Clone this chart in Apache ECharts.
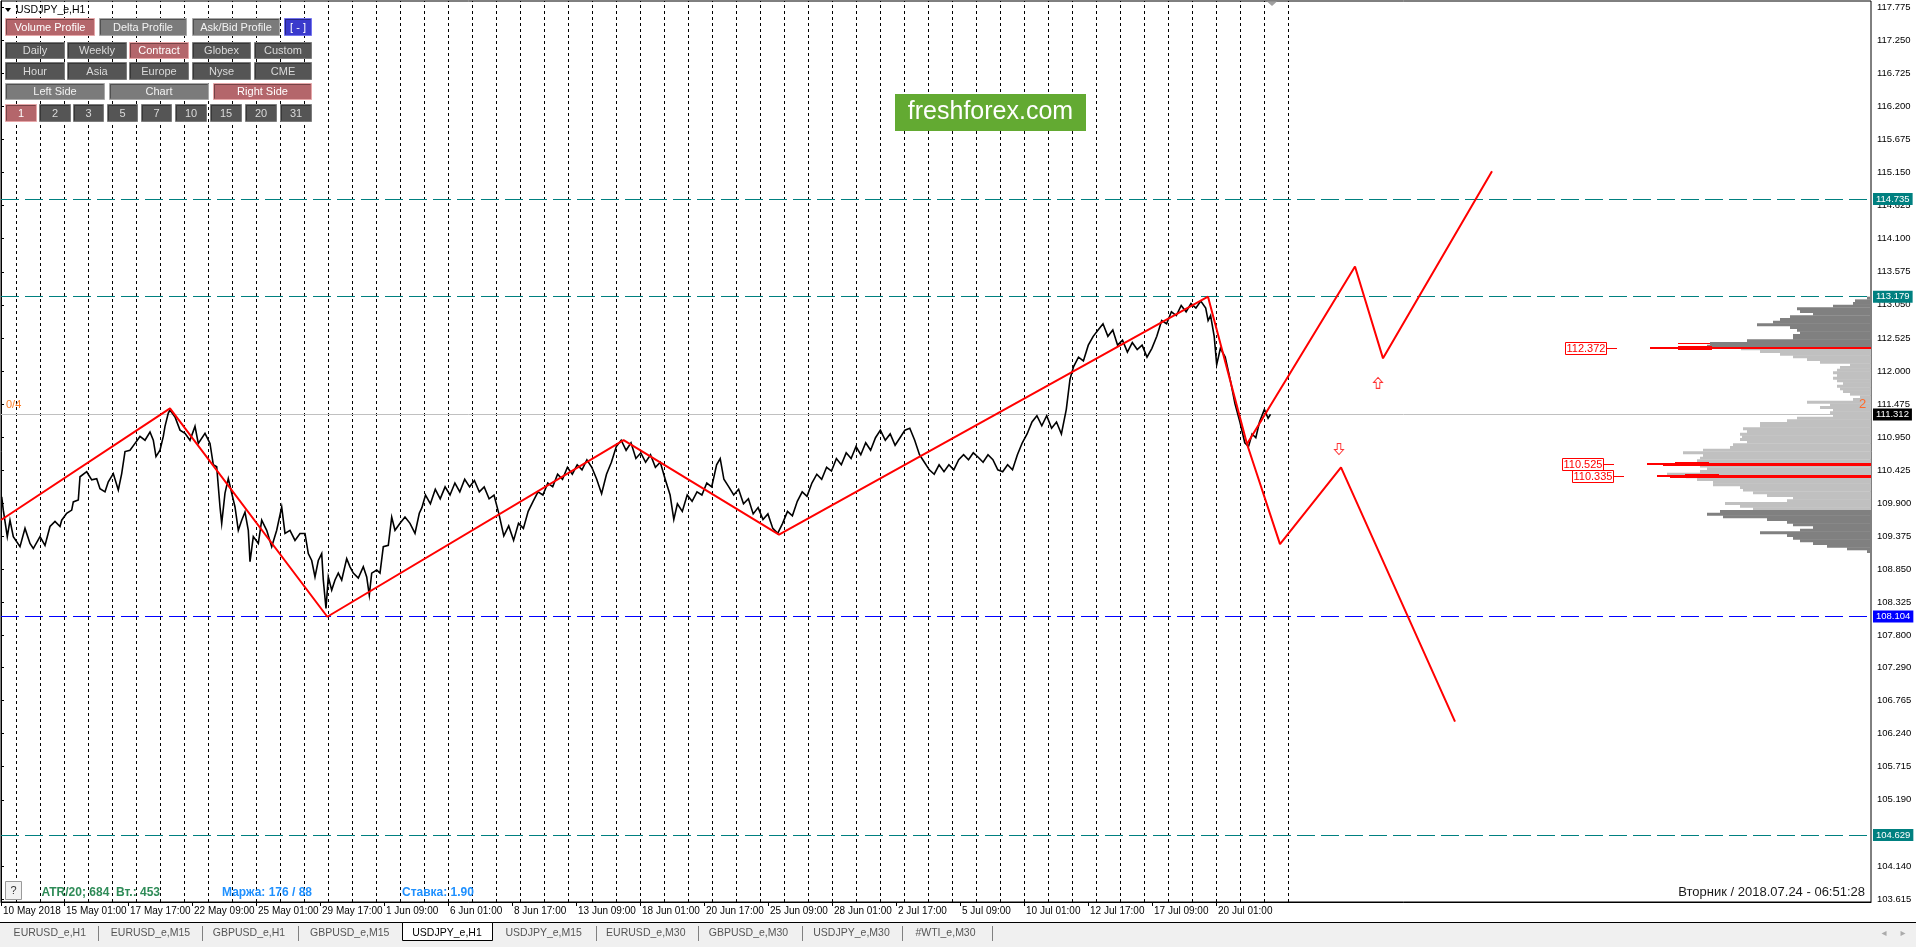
<!DOCTYPE html>
<html><head><meta charset="utf-8">
<script src="https://cdn.jsdelivr.net/npm/echarts@6/dist/echarts.min.js"></script>
<style>html,body{margin:0;padding:0;background:#fff;overflow:hidden}#c{width:1916px;height:947px}</style>
</head><body><div id="c"></div>
<script>
// ---------- DATA ----------
const priceTicks = [117.775,117.250,116.725,116.200,115.675,115.150,114.625,114.100,113.575,113.050,112.525,112.000,111.475,110.950,110.425,109.900,109.375,108.850,108.325,107.800,107.290,106.765,106.240,105.715,105.190,104.140,103.615];
const dateTickBars = [0,63,127,191,255,319,383,447,511,575,639,703,767,831,895,959,1023,1087,1151,1215];
const dateTickLabels = ['10 May 2018','15 May 01:00','17 May 17:00','22 May 09:00','25 May 01:00','29 May 17:00','1 Jun 09:00','6 Jun 01:00','8 Jun 17:00','13 Jun 09:00','18 Jun 01:00','20 Jun 17:00','25 Jun 09:00','28 Jun 01:00','2 Jul 17:00','5 Jul 09:00','10 Jul 01:00','12 Jul 17:00','17 Jul 09:00','20 Jul 01:00'];
const daySeparatorBars = [15.5,39.5,63.5,87.5,111.5,135.5,159.5,183.5,207.5,231.5,255.5,279.5,303.5,327.5,351.5,375.5,399.5,423.5,447.5,471.5,495.5,519.5,543.5,567.5,591.5,615.5,639.5,663.5,687.5,711.5,735.5,759.5,783.5,807.5,831.5,855.5,879.5,903.5,927.5,951.5,975.5,999.5,1023.5,1047.5,1071.5,1095.5,1119.5,1143.5,1167.5,1191.5,1215.5,1239.5,1263.5,1287.5];
const closeLine = [
[0.7,110.00],[2.3,109.79],[6.3,109.37],[9,109.63],[12.3,109.37],[19,109.21],[24,109.50],[29,109.26],[32.3,109.18],[39,109.37],[44,109.23],[49,109.53],[54,109.61],[59,109.53],[60.7,109.63],[65.7,109.74],[70.7,109.79],[72.3,109.92],[77.3,109.95],[79,110.32],[85.7,110.40],[90.7,110.27],[95.7,110.29],[99,110.13],[104,110.08],[107.3,110.24],[112.3,110.37],[117.3,110.11],[120.7,110.37],[124,110.72],[129,110.74],[134,110.85],[139,110.96],[144,110.90],[149,111.03],[152.3,110.90],[155,110.64],[159,110.74],[162.3,110.96],[164,111.12],[167.3,111.33],[169,111.38],[174,111.27],[179,111.06],[184,111.01],[189,110.90],[194,111.12],[197.3,110.85],[204,111.01],[209,110.85],[212.3,110.51],[215.7,110.48],[219,109.84],[220.7,109.58],[224,110.06],[227.3,110.29],[230.7,110.06],[234,109.84],[237.3,109.47],[240.7,109.63],[244,109.76],[247.3,109.47],[249,108.97],[252.3,109.37],[257.3,109.26],[260.7,109.63],[265.7,109.47],[270.7,109.21],[275.7,109.47],[280.7,109.84],[284,109.42],[289,109.47],[294,109.31],[299,109.42],[304,109.42],[307.3,109.10],[310.7,108.99],[314,108.73],[317.3,108.99],[320.7,109.10],[322.3,108.68],[325,108.23],[327.3,108.73],[330.7,108.52],[334,108.68],[337.3,108.79],[340.7,108.68],[345.7,109.02],[349,108.89],[352.3,108.79],[357.3,108.71],[362.3,108.89],[365.7,108.73],[368.3,108.44],[370.7,108.79],[375.7,108.84],[379,108.79],[382.3,109.21],[387.3,109.23],[390.7,109.68],[394,109.47],[399,109.58],[404,109.68],[409,109.58],[414,109.42],[418.3,109.74],
[420.9,109.83],[424.5,110.03],[429.4,109.89],[434.3,110.12],[439.2,109.97],[444.1,110.16],[449,110.03],[453.9,110.22],[458.8,110.08],[463.7,110.28],[468.6,110.16],[473.4,110.26],[478.3,110.08],[483.2,110.16],[488.1,109.97],[493,110.03],[497.9,109.73],[502.8,109.38],[507.7,109.54],[512.6,109.31],[517.5,109.58],[522.4,109.50],[527.2,109.77],[532.1,109.93],[537,110.08],[541.9,110.03],[546.8,110.22],[551.7,110.16],[556.6,110.36],[561.5,110.28],[566.4,110.47],[571.3,110.36],[576.2,110.51],[581,110.43],[585.9,110.59],[590.8,110.47],[595.7,110.28],[600.6,110.05],[605.5,110.36],[610.4,110.55],[615.3,110.80],[620.2,110.90],[625.1,110.74],[630,110.86],[634.9,110.61],[639.8,110.70],[644.6,110.55],[649.5,110.67],[654.4,110.47],[659.3,110.55],[664.2,110.28],[669.1,110.03],[672.8,109.64],[676.4,109.89],[681.3,109.77],[686.2,110.03],[691.1,109.93],[696,110.08],[700.9,110.03],[705.8,110.22],[710.7,110.16],[715.6,110.51],[719.2,110.61],[722.9,110.28],[727.8,110.16],[732.7,110.03],[737.6,110.12],[742.5,109.89],[747.4,109.97],[752.2,109.73],[757.1,109.83],[762,109.64],[766.9,109.73],[771.8,109.50],[776.7,109.42],[781.6,109.58],[786.5,109.77],[791.4,109.70],[796.3,109.93],[801.2,110.08],[806,110.01],[810.9,110.22],[815.8,110.36],[820.7,110.28],[825.6,110.47],[830.5,110.41],[835.4,110.61],[840.3,110.51],[845.2,110.70],[850.1,110.61],[855,110.80],[859.8,110.67],[864.7,110.86],[869.6,110.74],[874.5,110.94],[879.4,111.06],[884.3,110.90],[889.2,111.00],[894.1,110.82],[899,110.94],[903.9,111.06],[908.8,111.09],[913.7,110.90],[918.5,110.67],[923.4,110.55],[928.3,110.43],[933.2,110.36],[938.1,110.51],[943,110.40],[947.9,110.51],[952.8,110.43],[957.7,110.59],[962.6,110.67],[967.5,110.59],[972.3,110.70],[977.2,110.63],[982.1,110.55],[987,110.67],[991.9,110.59],[996.8,110.43],[1001.7,110.40],[1006.6,110.51],[1011.5,110.43],[1016.4,110.67],[1021.3,110.86],[1026.1,111.00],[1031,111.19],[1035.9,111.29],[1040.8,111.13],[1045.7,111.29],[1050.6,111.09],[1055.5,111.19],[1060.4,111.00],[1065.3,111.39],[1069,111.87],[1072.6,112.07],[1077.5,112.22],[1082.4,112.16],[1087.3,112.41],[1092.2,112.55],[1097.1,112.65],[1102,112.75],[1106.9,112.55],[1111.8,112.65],[1116.6,112.41],[1121.5,112.49],[1126.4,112.30],[1131.3,112.45],[1136.2,112.34],[1141.1,112.41],[1146,112.22],[1150.9,112.36],[1155.8,112.55],[1160.7,112.80],[1165.6,112.75],[1170.4,112.94],[1175.3,112.88],[1180.2,113.04],[1185.1,112.94],[1190,113.07],[1194.9,113.00],[1199.8,113.11],[1204.7,113.00],[1207.1,112.80],[1209.6,112.88],[1213.2,112.55],[1215.7,112.10],[1219.4,112.36],[1224.2,112.22],[1229.1,111.87],[1234,111.48],[1238.9,111.19],[1243.8,110.86],[1247.5,110.80],[1251.1,111.00],[1254.8,110.94],[1258.5,111.19],[1263.4,111.39],[1267.1,111.25],[1269.5,111.312]
];
const zigzagMain = [[0,109.633],[169,111.407],[326.3,108.097],[622.6,110.90],[778,109.40],[1207,113.18],[1246,110.84]];
const projectionUp = [[1246,110.84],[1354,113.66],[1382,112.20],[1491,115.17]];
const projectionDown = [[1246,110.84],[1279,109.25],[1340,110.47],[1454,106.43]];
const tealLevels = [114.735, 113.179, 104.629];
const blueLevels = [108.104];
const lastPrice = 111.312;
const arrowUp = [[1377,111.81]];
const arrowDown = [[1338,110.76]];
const profileStep = 0.04235;
const valueAreaHigh = 112.37, valueAreaLow = 109.79;
const volumeProfile = [
[113.159,4],[113.116,16],[113.074,18],[113.032,38],[112.989,74],[112.947,71],[112.905,58],[112.862,81],[112.820,91],[112.777,98],[112.735,114],[112.693,81],[112.650,74],[112.608,71],[112.566,78],[112.523,78],[112.481,124],[112.439,161],[112.396,164],
[112.354,130],[112.312,111],[112.269,91],[112.227,78],[112.185,64],[112.142,51],[112.100,21],[112.058,31],[112.015,34],[111.973,38],[111.931,34],[111.888,38],[111.846,34],[111.803,28],[111.761,34],[111.719,31],[111.676,28],[111.634,21],[111.592,11],[111.549,18],[111.507,64],[111.465,41],[111.422,51],[111.380,38],[111.338,41],[111.295,38],[111.253,74],[111.211,84],[111.168,111],[111.126,111],[111.084,128],[111.041,124],[110.999,131],[110.956,129],[110.914,131],[110.872,124],[110.829,138],[110.787,141],[110.745,168],[110.702,188],[110.660,168],[110.618,171],[110.575,174],[110.533,171],[110.491,171],[110.448,164],[110.406,171],[110.364,204],[110.321,185],[110.279,174],[110.236,158],[110.194,158],[110.152,131],[110.110,128],[110.067,118],[110.025,104],[109.982,78],[109.940,84],[109.898,146],[109.855,131],[109.813,118],
[109.771,151],[109.728,164],[109.686,148],[109.644,104],[109.601,84],[109.559,78],[109.517,58],[109.474,71],[109.432,111],[109.390,84],[109.347,78],[109.305,71],[109.263,58],[109.220,44],[109.178,24],[109.135,4]
];
const pocLevels = [[112.372,221],[110.525,224],[110.335,214]];
const pocShadows = [[112.45,193,161],[110.508,208,0],[110.318,201,0]];

// ---------- STYLE / LAYOUT ----------
const FONT = '"Liberation Sans", Arial, sans-serif';
const chart = echarts.init(document.getElementById('c'), null, {renderer:'canvas'});

const levelMarks = [];
tealLevels.forEach(v => levelMarks.push({yAxis:v, name:v.toFixed(3), lineStyle:{color:'#008080', type:[18,6], width:1}, label:{backgroundColor:'#008080'}}));
blueLevels.forEach(v => levelMarks.push({yAxis:v, name:v.toFixed(3), lineStyle:{color:'#0000ff', type:[18,6], width:1}, label:{backgroundColor:'#0000ff'}}));
levelMarks.push({yAxis:lastPrice, name:lastPrice.toFixed(3), lineStyle:{color:'#c0c0c0', type:'solid', width:1}, label:{backgroundColor:'#000000'}});

const BTN = {
  pink:{fill:'#b4666b', stroke:'#e6a6a8', text:'#ffffff'},
  gray:{fill:'#7b7b7b', stroke:'#a8a8a8', text:'#f2f2f2'},
  dark:{fill:'#555555', stroke:'#7c7c7c', text:'#dadada'},
  blue:{fill:'#3a3acc', stroke:'#7474f0', text:'#ffffff'}
};
const buttons = [
 ['Volume Profile',5,18,90,18,'pink'],['Delta Profile',99,18,88,18,'gray'],['Ask/Bid Profile',192,18,88,18,'gray'],['[ - ]',284,18,28,18,'blue'],
 ['Daily',5,42,60,17,'dark'],['Weekly',67,42,60,17,'dark'],['Contract',129,42,60,17,'pink'],['Globex',192,42,59,17,'dark'],['Custom',254,42,58,17,'dark'],
 ['Hour',5,62,60,18,'dark'],['Asia',67,62,60,18,'dark'],['Europe',129,62,60,18,'dark'],['Nyse',192,62,59,18,'dark'],['CME',254,62,58,18,'dark'],
 ['Left Side',5,83,100,17,'gray'],['Chart',109,83,100,17,'gray'],['Right Side',213,83,99,17,'pink'],
 ['1',5,104,32,18,'pink'],['2',39,104,32,18,'dark'],['3',73,104,31,18,'dark'],['5',107,104,31,18,'dark'],['7',141,104,31,18,'dark'],['10',175,104,32,18,'dark'],['15',210,104,32,18,'dark'],['20',245,104,32,18,'dark'],['31',280,104,32,18,'dark']
];
const g = [];
function T(x,y,text,o){
  o=o||{};
  g.push({type:'text', x:x, y:y, z:100, silent:true, style:{text:text, fill:o.fill||'#000', font:(o.weight||'normal')+' '+(o.size||11)+'px '+(o.family||FONT), align:o.align||'left', verticalAlign:'middle', textAlign:o.align||'left', textVerticalAlign:'middle'}});
}
buttons.forEach(b => {
  const s = BTN[b[5]];
  g.push({type:'rect', z:99, silent:true, shape:{x:b[1]+0.5, y:b[2]+0.5, width:b[3]-1, height:b[4]-1}, style:{fill:s.fill, stroke:s.stroke, lineWidth:1}});
  g.push({type:'polyline', z:99, silent:true, shape:{points:[[b[1]+1.5,b[2]+b[4]-1.5],[b[1]+1.5,b[2]+1.5],[b[1]+b[3]-1.5,b[2]+1.5]]}, style:{stroke:'rgba(0,0,0,0.35)', lineWidth:1, fill:null}});
  T(b[1]+b[3]/2, b[2]+b[4]/2+0.5, b[0], {fill:s.text, align:'center', size:11});
});
// title
g.push({type:'polygon', z:100, silent:true, shape:{points:[[5,8],[11,8],[8,12]]}, style:{fill:'#000'}});
T(16,10,'USDJPY_e,H1',{size:10.5});
// logo
g.push({type:'rect', z:100, silent:true, shape:{x:895, y:94, width:191, height:37}, style:{fill:'#63aa32'}});
T(990.5,112.5,'freshforex.com',{fill:'#ffffff', size:25, align:'center'});
// small orange texts
T(6,405,'0/4',{fill:'#ff7f27', size:11});
T(1859,404.5,'2',{fill:'#ff6a2a', size:13});
// chart shift marker
g.push({type:'polygon', z:100, silent:true, shape:{points:[[1267,1.5],[1277,1.5],[1272,6]]}, style:{fill:'#a0a0a0'}});
// bottom status line
g.push({type:'rect', z:100, silent:true, shape:{x:5.5, y:881.5, width:16, height:18}, style:{fill:'#f2f2f2', stroke:'#9a9a9a', lineWidth:1}});
T(13.5,890.5,'?',{fill:'#333', size:11, align:'center'});
T(41.5,892.5,'ATR/20; 684  Вт.: 453',{fill:'#2e8b57', size:12, weight:'bold'});
T(222,892.5,'Маржа: 176 / 88',{fill:'#1e90ff', size:12, weight:'bold'});
T(402,892.5,'Ставка: 1.90',{fill:'#1e90ff', size:12, weight:'bold'});
T(1865,892,'Вторник / 2018.07.24 - 06:51:28',{fill:'#1a1a1a', size:13, align:'right'});
// tab bar
g.push({type:'rect', z:98, silent:true, shape:{x:0, y:923, width:1916, height:24}, style:{fill:'#f0f0f0'}});
g.push({type:'line', z:99, silent:true, shape:{x1:0, y1:922.5, x2:1916, y2:922.5}, style:{stroke:'#000', lineWidth:1}});
g.push({type:'rect', z:99, silent:true, shape:{x:402.5, y:922.5, width:90, height:18}, style:{fill:'#ffffff', stroke:'#000', lineWidth:1}});
const tabs = [['EURUSD_e,H1',49.8],['EURUSD_e,M15',150.5],['GBPUSD_e,H1',249],['GBPUSD_e,M15',349.7],['USDJPY_e,H1',447],['USDJPY_e,M15',543.7],['EURUSD_e,M30',645.8],['GBPUSD_e,M30',748.5],['USDJPY_e,M30',851.5],['#WTI_e,M30',945.5]];
tabs.forEach(t => T(t[1],933,t[0],{fill: t[0]==='USDJPY_e,H1' ? '#000' : '#555', size:10.5, align:'center'}));
[98,202,297.7,595.8,698,801.7,902,991.6].forEach(x => g.push({type:'line', z:99, silent:true, shape:{x1:Math.round(x)+0.5, y1:926, x2:Math.round(x)+0.5, y2:941}, style:{stroke:'#808080', lineWidth:1}}));
T(1884,933,'◂',{fill:'#aaa', size:10, family:'"DejaVu Sans"', align:'center'});
T(1903,933,'▸',{fill:'#aaa', size:10, family:'"DejaVu Sans"', align:'center'});

const arrowPath = 'path://M5,0 L10,5 L7,5 L7,11 L3,11 L3,5 L0,5 Z';

const option = {
  animation:false,
  backgroundColor:'#ffffff',
  grid:{left:1, right:45, top:1, bottom:45, show:true, borderColor:'#000', borderWidth:1, backgroundColor:'#fff', containLabel:false},
  xAxis:[{
    type:'value', min:0, max:1870, position:'bottom',
    axisLine:{show:true, lineStyle:{color:'#000', width:1}},
    axisTick:{show:true, length:4, customValues:dateTickBars, lineStyle:{color:'#000'}},
    axisLabel:{show:true, customValues:dateTickBars, align:'left', margin:4, padding:[0,0,0,2], color:'#000', fontSize:10, fontFamily:FONT,
      formatter:v => { const i = dateTickBars.indexOf(v); return i>=0 ? dateTickLabels[i] : ''; }},
    splitLine:{show:false}
  },{
    type:'value', min:0, max:1870, inverse:true, show:false
  }],
  yAxis:[{
    type:'value', min:103.567, max:117.875, position:'right', scale:true,
    axisLine:{show:true, lineStyle:{color:'#000', width:1}},
    axisTick:{show:true, length:3, customValues:priceTicks, lineStyle:{color:'#000'}},
    axisLabel:{show:true, customValues:priceTicks, margin:6, color:'#000', fontSize:9.5, fontFamily:FONT, formatter:v => v.toFixed(3)},
    splitLine:{show:false}
  }],
  graphic:{elements:g},
  series:[
    {type:'line', name:'close', data:closeLine, showSymbol:false, symbol:'none', z:3,
      lineStyle:{color:'#000', width:1.6, join:'miter'}, clip:true,
      markLine:{silent:true, symbol:'none', z:1, animation:false, label:{show:false},
        lineStyle:{color:'#000', type:[3,3], width:1},
        data: daySeparatorBars.map(b => ({xAxis:b}))}
    },
    {type:'line', name:'zigzag', data:zigzagMain, showSymbol:false, symbol:'none', z:4, lineStyle:{color:'#ff0000', width:2},
      markLine:{silent:true, symbol:'none', z:1, animation:false,
        label:{show:true, position:'end', distance:2, formatter:'{b}', color:'#fff', fontSize:9.5, fontFamily:FONT, padding:[1,3,1,3]},
        data: levelMarks}
    },
    {type:'line', name:'up', data:projectionUp, showSymbol:false, symbol:'none', z:4, lineStyle:{color:'#ff0000', width:2}},
    {type:'line', name:'down', data:projectionDown, showSymbol:false, symbol:'none', z:4, lineStyle:{color:'#ff0000', width:2}},
    {type:'scatter', name:'arrowUp', data:arrowUp, symbol:arrowPath, symbolSize:[9,11], z:8, itemStyle:{color:'#fff', borderColor:'#ff0000', borderWidth:1}},
    {type:'scatter', name:'arrowDown', data:arrowDown, symbol:arrowPath, symbolSize:[9,11], symbolRotate:180, z:8, itemStyle:{color:'#fff', borderColor:'#ff0000', borderWidth:1}},
    {type:'custom', name:'profile', xAxisIndex:1, yAxisIndex:0, z:6, silent:true,
      data: volumeProfile.map(d => [d[1], d[0]]),
      encode:{x:0, y:1},
      renderItem:(params, api) => {
        const w = api.value(0), p = api.value(1);
        const a = api.coord([w, p + profileStep/2]);
        const b = api.coord([0, p - profileStep/2]);
        const dark = p > valueAreaHigh || p < valueAreaLow;
        return {type:'rect', shape:{x:a[0], y:a[1], width:b[0]-a[0], height:b[1]-a[1]+0.3}, style:{fill: dark ? '#808080' : '#c0c0c0'}};
      }
    },
    {type:'custom', name:'pocShadow', xAxisIndex:1, yAxisIndex:0, z:7, silent:true,
      data: pocShadows.map(d => [d[1], d[0], d[2]]),
      encode:{x:0, y:1},
      renderItem:(params, api) => {
        const a = api.coord([api.value(0), api.value(1)]);
        const b = api.coord([api.value(2), api.value(1)]);
        const y = Math.round(a[1]);
        return {type:'rect', shape:{x:a[0], y:y, width:b[0]-a[0], height:1}, style:{fill:'#ff0000'}};
      }
    },
    {type:'custom', name:'poc', xAxisIndex:1, yAxisIndex:0, z:7, silent:true,
      data: pocLevels.map(d => [d[1], d[0]]),
      encode:{x:0, y:1},
      renderItem:(params, api) => {
        const w = api.value(0), p = api.value(1);
        const s = api.coord([w, p]); const e = api.coord([0, p]);
        const y = Math.round(s[1]);
        const boxR = Math.round(s[0] - 43);
        return {type:'group', children:[
          {type:'rect', shape:{x:s[0], y:y-1, width:e[0]-s[0], height:2}, style:{fill:'#ff0000'}},
          {type:'rect', shape:{x:s[0]+28, y:y-2, width:34, height:4}, style:{fill:'#ff0000'}},
          {type:'rect', shape:{x:boxR-41.5, y:y-5.5, width:41, height:12}, style:{fill:'#ffffff', stroke:'#ff0000', lineWidth:1}},
          {type:'line', shape:{x1:boxR, y1:y+0.5, x2:boxR+10, y2:y+0.5}, style:{stroke:'#ff0000', lineWidth:1}},
          {type:'text', x:boxR-21, y:y+0.5, style:{text:p.toFixed(3), fill:'#ff0000', font:'11px '+FONT, align:'center', verticalAlign:'middle', textAlign:'center', textVerticalAlign:'middle'}}
        ]};
      }
    }
  ]
};
chart.setOption(option);
</script></body></html>
